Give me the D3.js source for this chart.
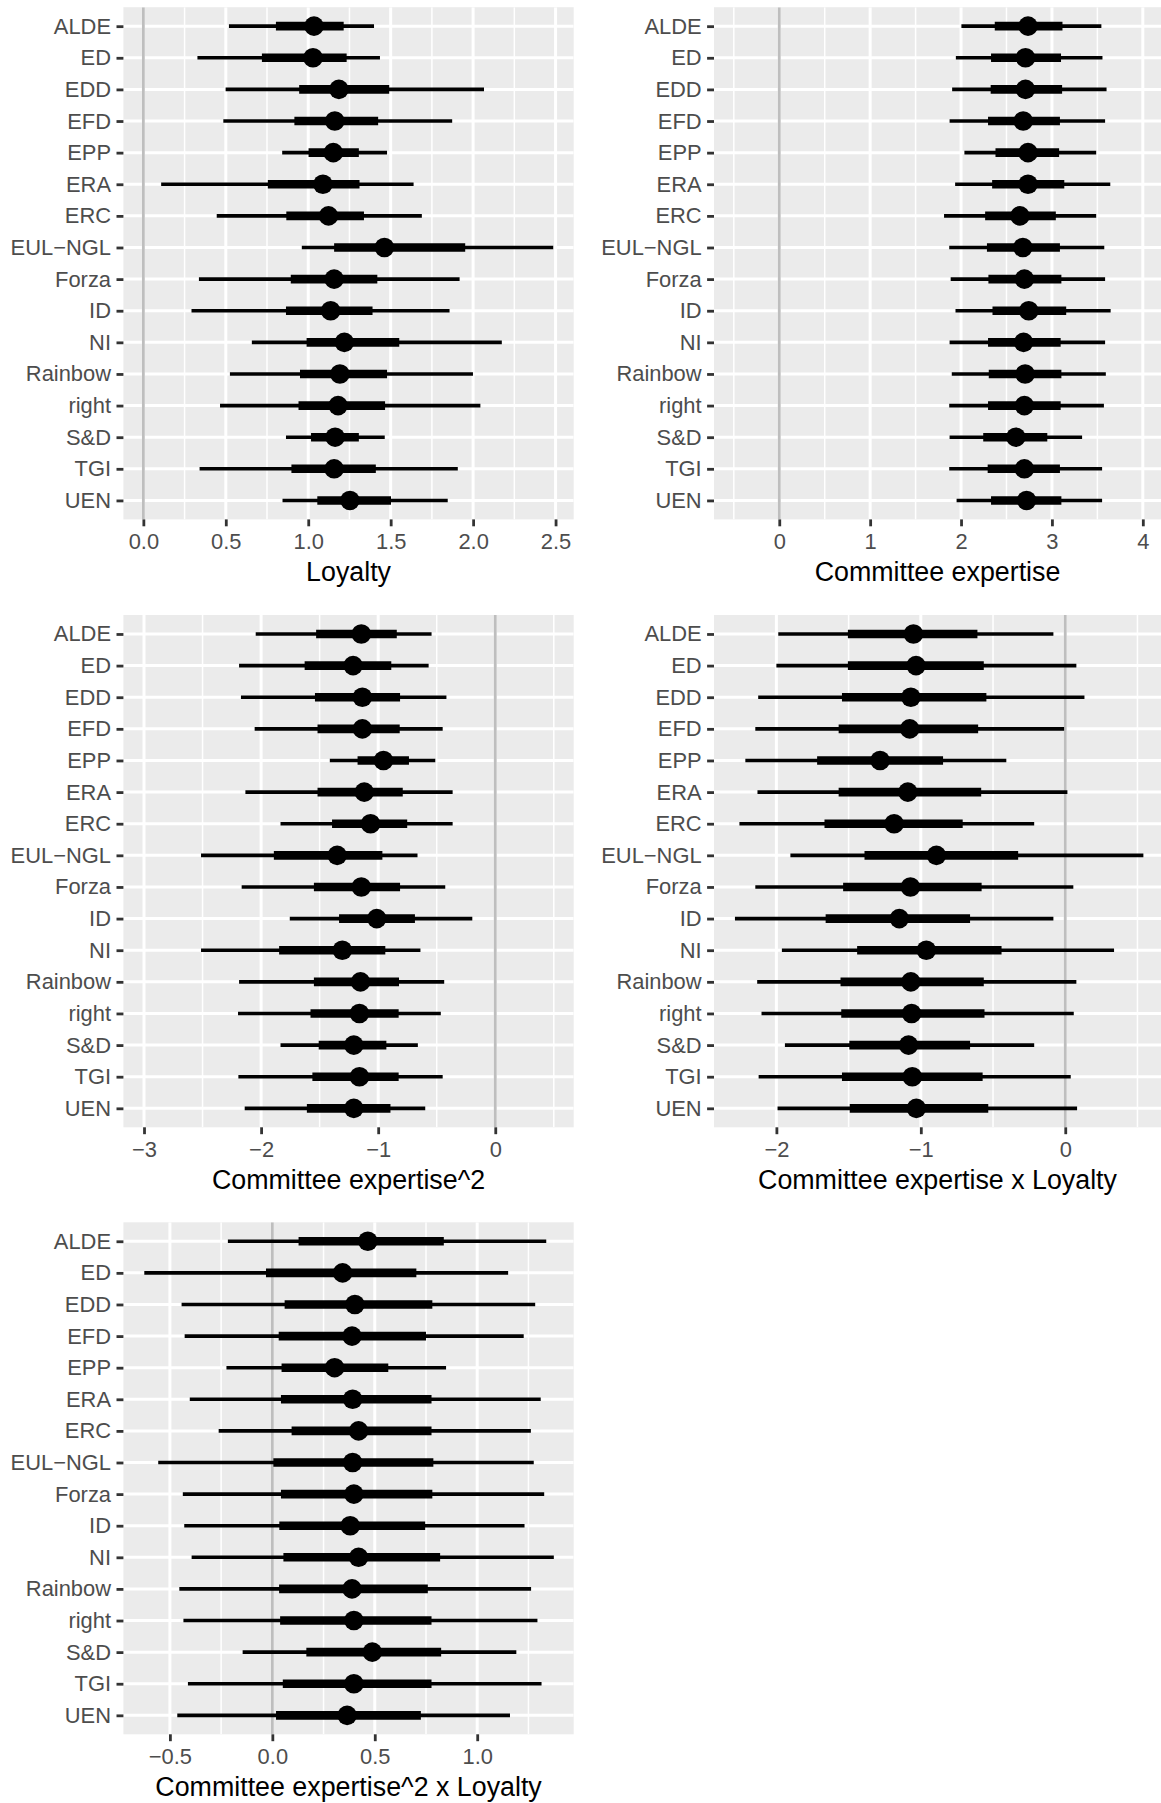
<!DOCTYPE html>
<html><head><meta charset="utf-8">
<script src="https://cdn.jsdelivr.net/npm/d3@7"></script>
<style>
body{margin:0;background:#fff}
svg{display:block}
text{font-family:"Liberation Sans",Arial,Helvetica,sans-serif}
</style>
</head><body>
<svg id="chart" width="1161" height="1803"></svg>
<script>
// Categories, top to bottom
const categories = ["ALDE","ED","EDD","EFD","EPP","ERA","ERC","EUL−NGL","Forza","ID","NI","Rainbow","right","S&D","TGI","UEN"];

// Each row: [outer low, inner low, median, inner high, outer high]
const loyalty = [
  [0.519,0.804,1.035,1.215,1.399],
  [0.328,0.719,1.029,1.233,1.435],
  [0.499,0.945,1.186,1.491,2.066],
  [0.485,0.916,1.161,1.424,1.873],
  [0.842,1.002,1.152,1.307,1.478],
  [0.108,0.755,1.089,1.311,1.639],
  [0.445,0.867,1.123,1.338,1.689],
  [0.961,1.157,1.462,1.952,2.486],
  [0.337,0.894,1.157,1.419,1.918],
  [0.292,0.865,1.136,1.390,1.857],
  [0.658,0.990,1.219,1.552,2.174],
  [0.525,0.950,1.192,1.478,1.999],
  [0.465,0.941,1.181,1.466,2.044],
  [0.865,1.017,1.163,1.307,1.464],
  [0.341,0.898,1.157,1.410,1.907],
  [0.844,1.055,1.253,1.502,1.846]
];
const expertise = [
  [2.004,2.371,2.737,3.116,3.544],
  [1.943,2.330,2.709,3.100,3.556],
  [1.902,2.326,2.709,3.112,3.601],
  [1.874,2.297,2.684,3.088,3.585],
  [2.037,2.379,2.737,3.079,3.487],
  [1.935,2.342,2.737,3.136,3.642],
  [1.813,2.265,2.648,3.043,3.487],
  [1.870,2.285,2.680,3.088,3.576],
  [1.886,2.301,2.697,3.104,3.585],
  [1.939,2.346,2.745,3.157,3.646],
  [1.874,2.297,2.688,3.096,3.585],
  [1.898,2.305,2.705,3.104,3.593],
  [1.870,2.297,2.697,3.096,3.572],
  [1.874,2.244,2.603,2.949,3.332],
  [1.870,2.293,2.697,3.088,3.552],
  [1.951,2.330,2.721,3.104,3.552]
];
const expertiseSq = [
  [-2.046,-1.530,-1.144,-0.841,-0.544],
  [-2.188,-1.628,-1.214,-0.888,-0.569],
  [-2.172,-1.540,-1.135,-0.813,-0.417],
  [-2.055,-1.518,-1.135,-0.816,-0.449],
  [-1.413,-1.176,-0.955,-0.737,-0.512],
  [-2.134,-1.518,-1.119,-0.790,-0.364],
  [-1.834,-1.394,-1.065,-0.752,-0.364],
  [-2.513,-1.891,-1.350,-0.964,-0.664],
  [-2.166,-1.549,-1.144,-0.813,-0.427],
  [-1.755,-1.334,-1.012,-0.686,-0.196],
  [-2.513,-1.846,-1.306,-0.939,-0.639],
  [-2.188,-1.549,-1.151,-0.822,-0.436],
  [-2.197,-1.578,-1.160,-0.825,-0.465],
  [-1.834,-1.508,-1.208,-0.930,-0.661],
  [-2.194,-1.562,-1.160,-0.825,-0.449],
  [-2.140,-1.609,-1.208,-0.895,-0.598]
];
const expertiseXLoyalty = [
  [-1.987,-1.505,-1.051,-0.608,-0.082],
  [-2.000,-1.505,-1.033,-0.564,0.077],
  [-2.126,-1.546,-1.069,-0.546,0.133],
  [-2.146,-1.569,-1.077,-0.603,-0.008],
  [-2.215,-1.718,-1.282,-0.846,-0.408],
  [-2.131,-1.569,-1.090,-0.582,0.015],
  [-2.256,-1.667,-1.185,-0.710,-0.215],
  [-1.903,-1.390,-0.892,-0.326,0.541],
  [-2.146,-1.538,-1.072,-0.579,0.056],
  [-2.287,-1.659,-1.149,-0.659,-0.082],
  [-1.962,-1.441,-0.962,-0.441,0.338],
  [-2.133,-1.556,-1.069,-0.564,0.077],
  [-2.103,-1.551,-1.064,-0.559,0.059],
  [-1.941,-1.495,-1.085,-0.659,-0.215],
  [-2.123,-1.546,-1.059,-0.572,0.038],
  [-1.992,-1.492,-1.031,-0.533,0.082]
];
const expertiseSqXLoyalty = [
  [-0.217,0.128,0.466,0.837,1.337],
  [-0.625,-0.031,0.343,0.703,1.151],
  [-0.443,0.060,0.403,0.781,1.283],
  [-0.428,0.031,0.389,0.750,1.227],
  [-0.224,0.045,0.304,0.566,0.848],
  [-0.403,0.042,0.392,0.777,1.310],
  [-0.262,0.094,0.421,0.777,1.262],
  [-0.557,0.005,0.392,0.786,1.276],
  [-0.437,0.042,0.398,0.781,1.327],
  [-0.430,0.034,0.380,0.746,1.231],
  [-0.394,0.054,0.421,0.819,1.374],
  [-0.454,0.033,0.389,0.759,1.263],
  [-0.434,0.038,0.398,0.777,1.294],
  [-0.145,0.166,0.488,0.824,1.191],
  [-0.412,0.051,0.398,0.777,1.314],
  [-0.464,0.018,0.365,0.725,1.160]
];

const panelData = [loyalty, expertise, expertiseSq, expertiseXLoyalty, expertiseSqXLoyalty];
const panelTitles = ["Loyalty","Committee expertise","Committee expertise^2","Committee expertise x Loyalty","Committee expertise^2 x Loyalty"];
const xLimits = [[-0.121,2.61],[-0.718,4.2],[-3.176,0.67],[-2.432,0.663],[-0.727,1.471]];
const majorTicks = [[0,0.5,1,1.5,2,2.5],[0,1,2,3,4],[-3,-2,-1,0],[-2,-1,0],[-0.5,0,0.5,1]];
const minorTicks = [[0.25,0.75,1.25,1.75,2.25],[-0.5,0.5,1.5,2.5,3.5],[-2.5,-1.5,-0.5,0.5],[-1.5,-0.5,0.5],[-0.25,0.25,0.75,1.25]];
const tickFormats = [".1f","d","d","d",".1f"];
const referenceLine = 0;

// Layout (pixels)
const colX = [[123.4, 573.7], [714, 1161]];
const rowY = [[7.2, 519.4], [615, 1127.3], [1222.3, 1734.3]];

const svg = d3.select("#chart");
const tickLen = 6.9, tickPad = 7;

panelData.forEach((rows, i) => {
  const [x0, x1] = colX[i % 2];
  const [y0, y1] = rowY[Math.floor(i / 2)];
  const x = d3.scaleLinear().domain(xLimits[i]).range([x0, x1]);
  const y = d3.scalePoint().domain(categories).range([y0, y1]).padding(0.6);
  const g = svg.append("g");
  const clipId = "clip" + i;
  svg.append("clipPath").attr("id", clipId).append("rect")
    .attr("x", x0).attr("y", y0).attr("width", x1 - x0).attr("height", y1 - y0);

  g.append("rect").attr("x", x0).attr("y", y0).attr("width", x1 - x0).attr("height", y1 - y0)
    .attr("fill", "#EBEBEB");

  const grid = g.append("g").attr("clip-path", `url(#${clipId})`);
  grid.selectAll(".minor").data(minorTicks[i]).join("line")
    .attr("x1", d => x(d)).attr("x2", d => x(d)).attr("y1", y0).attr("y2", y1)
    .attr("stroke", "#fff").attr("stroke-width", 1.5);
  grid.selectAll(".majorx").data(majorTicks[i]).join("line")
    .attr("x1", d => x(d)).attr("x2", d => x(d)).attr("y1", y0).attr("y2", y1)
    .attr("stroke", "#fff").attr("stroke-width", 3);
  grid.selectAll(".majory").data(categories).join("line")
    .attr("x1", x0).attr("x2", x1).attr("y1", d => y(d)).attr("y2", d => y(d))
    .attr("stroke", "#fff").attr("stroke-width", 3);

  // reference line
  grid.append("line").attr("x1", x(referenceLine)).attr("x2", x(referenceLine))
    .attr("y1", y0).attr("y2", y1).attr("stroke", "#BEBEBE").attr("stroke-width", 2.8);

  const marks = grid.append("g");
  const items = rows.map((r, k) => ({cat: categories[k], v: r}));
  marks.selectAll(".outer").data(items).join("line")
    .attr("x1", d => x(d.v[0])).attr("x2", d => x(d.v[4]))
    .attr("y1", d => y(d.cat)).attr("y2", d => y(d.cat))
    .attr("stroke", "#000").attr("stroke-width", 3.6);
  marks.selectAll(".inner").data(items).join("line")
    .attr("x1", d => x(d.v[1])).attr("x2", d => x(d.v[3]))
    .attr("y1", d => y(d.cat)).attr("y2", d => y(d.cat))
    .attr("stroke", "#000").attr("stroke-width", 8.6);
  marks.selectAll("circle").data(items).join("circle")
    .attr("cx", d => x(d.v[2])).attr("cy", d => y(d.cat)).attr("r", 9.8)
    .attr("fill", "#000");

  // axes
  const fmt = d3.format(tickFormats[i]);
  const xAxis = g.append("g").attr("transform", `translate(0,${y1})`)
    .call(d3.axisBottom(x).tickValues(majorTicks[i]).tickFormat(fmt).tickSize(tickLen).tickPadding(tickPad));
  const yAxis = g.append("g").attr("transform", `translate(${x0},0)`)
    .call(d3.axisLeft(y).tickSize(tickLen).tickPadding(5.5));
  [xAxis, yAxis].forEach(a => {
    a.select(".domain").remove();
    a.selectAll(".tick line").attr("stroke", "#333333").attr("stroke-width", 2.8);
    a.selectAll(".tick text").attr("fill", "#4D4D4D").attr("font-size", 21.9)
      .attr("font-family", '"Liberation Sans",Arial,Helvetica,sans-serif');
  });

  g.append("text").attr("x", (x0 + Math.min(x1, i % 2 ? 1163.7 : x1)) / 2).attr("y", y1 + 61.5)
    .attr("text-anchor", "middle").attr("font-size", 26.8).attr("fill", "#000")
    .text(panelTitles[i]);
});
</script>
</body></html>
